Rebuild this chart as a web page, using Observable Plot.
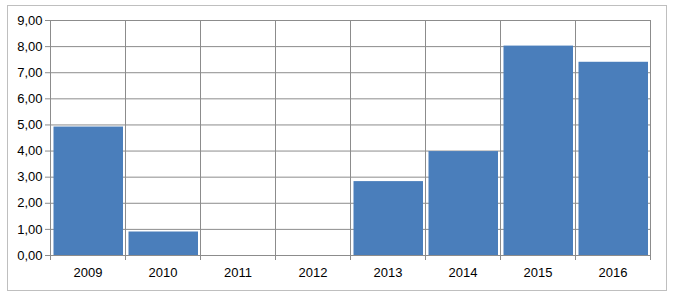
<!DOCTYPE html>
<html>
<head>
<meta charset="utf-8">
<script src="https://cdn.jsdelivr.net/npm/d3@7"></script>
<script src="https://cdn.jsdelivr.net/npm/@observablehq/plot@0.6"></script>
<style>
  html, body { margin: 0; padding: 0; background: #fff; }
  #wrap { position: relative; width: 680px; height: 300px; }
  #border { position: absolute; left: 7px; top: 5px; width: 658px; height: 284px; border: 1px solid #bfbfbf; pointer-events: none; }
</style>
</head>
<body>
<div id="wrap"><div id="border"></div></div>
<script>
const years = ["2009", "2010", "2011", "2012", "2013", "2014", "2015", "2016"];
const values = [4.92, 0.9, null, null, 2.83, 3.98, 8.02, 7.4];
const yTicks = [0, 1, 2, 3, 4, 5, 6, 7, 8, 9];

const data = years.map((y, i) => ({ i, year: y, value: values[i] })).filter(d => d.value != null);
const bounds = d3.range(0, years.length + 1);
const centers = years.map((_, i) => i + 0.5);
const fmt = d => d.toFixed(2).replace(".", ",");
const grid = "#8c8c8c";

const chart = Plot.plot({
  width: 680,
  height: 300,
  marginLeft: 50,
  marginRight: 30,
  marginTop: 20,
  marginBottom: 45,
  style: { fontFamily: "'Liberation Sans', Arial, sans-serif", fontSize: "13px", color: "#000", background: "transparent" },
  x: { type: "linear", domain: [0, years.length] },
  y: { domain: [0, 9] },
  marks: [
    Plot.gridY(yTicks, { stroke: grid, strokeOpacity: 1 }),
    Plot.gridX(bounds, { stroke: grid, strokeOpacity: 1 }),
    Plot.rectY(data, { x1: d => d.i, x2: d => d.i + 1, y: "value", fill: "#4a7ebb", insetLeft: 3.5, insetRight: 2 }),
    Plot.axisY(yTicks, { tickFormat: fmt, tickSize: 5, tickPadding: 3, stroke: grid, fill: "#000", label: null }),
    Plot.axisX(bounds, { tickSize: 5, tickFormat: () => "", stroke: grid, label: null }),
    Plot.axisX(centers, { tickSize: 0, tickPadding: 12, tickFormat: (d) => years[Math.round(d - 0.5)], fill: "#000", label: null }),
    Plot.ruleY([0], { stroke: grid })
  ]
});
chart.style.position = "absolute";
chart.style.left = "0px";
chart.style.top = "0px";
document.getElementById("wrap").appendChild(chart);
</script>
</body>
</html>
